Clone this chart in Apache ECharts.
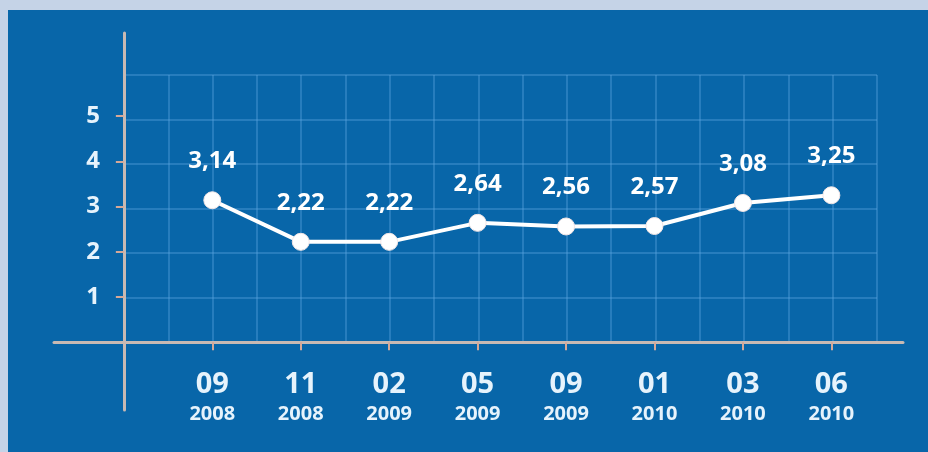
<!DOCTYPE html>
<html>
<head>
<meta charset="utf-8">
<script src="https://cdn.jsdelivr.net/npm/echarts@6/dist/echarts.min.js"></script>
<style>
  html, body { margin: 0; padding: 0; width: 928px; height: 452px; background: #c5d3e7; overflow: hidden; }
  #chart { position: absolute; left: 8px; top: 10px; width: 920px; height: 442px; }
</style>
</head>
<body>
<div id="chart"></div>
<script>
// ---- data ----
const months = ['09', '11', '02', '05', '09', '01', '03', '06'];
const years = ['2008', '2008', '2009', '2009', '2009', '2010', '2010', '2010'];
const values = [3.14, 2.22, 2.22, 2.64, 2.56, 2.57, 3.08, 3.25];
const yTicks = [1, 2, 3, 4, 5];

const xPos = months.map((m, i) => i + 1);
const seriesData = values.map((v, i) => [xPos[i], v]);

const FONT = "'Open Sans', 'DejaVu Sans', sans-serif";
const AXIS_COLOR = '#c8b9b3';
const TICK_COLOR = '#d6a898';
const GRID_COLOR = 'rgba(95,165,225,0.36)';

const chart = echarts.init(document.getElementById('chart'), null, { renderer: 'canvas' });

const tickStyle = { show: true, length: 8, lineStyle: { color: TICK_COLOR, width: 2 } };

chart.setOption({
  backgroundColor: '#0866a9',
  animation: false,
  grid: [
    { left: 46, right: 25, top: 23, bottom: 42, outerBoundsMode: 'none' },
    { left: 116, right: 51, top: 65, bottom: 110, outerBoundsMode: 'none' }
  ],
  xAxis: [
    {
      type: 'value', gridIndex: 0, position: 'bottom', min: -0.79, max: 8.81,
      axisLine: { show: true, onZero: true, onZeroAxisIndex: 0, lineStyle: { color: AXIS_COLOR, width: 3 } },
      axisTick: Object.assign({ customValues: xPos }, tickStyle),
      splitLine: { show: false },
      axisLabel: {
        show: true, customValues: xPos, margin: -41,
        formatter: v => '{a|' + months[v - 1] + '}\n{b|' + years[v - 1] + '}',
        rich: {
          a: { fontFamily: FONT, fontSize: 29, fontWeight: 700, color: '#e6f3fc', lineHeight: 32 },
          b: { fontFamily: FONT, fontSize: 20, fontWeight: 700, color: '#e6f3fc', lineHeight: 26 }
        }
      }
    },
    {
      type: 'value', gridIndex: 0, position: 'top', min: -0.79, max: 8.81,
      axisLine: { show: false, onZero: true, onZeroAxisIndex: 0 },
      axisTick: Object.assign({ customValues: xPos, inside: true }, tickStyle),
      splitLine: { show: false },
      axisLabel: { show: false }
    },
    {
      type: 'value', gridIndex: 1, min: 0, max: 8.5, interval: 0.5,
      axisLine: { show: false }, axisTick: { show: false }, axisLabel: { show: false },
      splitLine: { show: true, lineStyle: { color: GRID_COLOR, width: 2 } }
    }
  ],
  yAxis: [
    {
      type: 'value', gridIndex: 0, position: 'left', min: -1.5, max: 6.84,
      axisLine: { show: true, onZero: true, onZeroAxisIndex: 0, lineStyle: { color: AXIS_COLOR, width: 3 } },
      axisTick: Object.assign({ customValues: yTicks }, tickStyle),
      splitLine: { show: false },
      axisLabel: {
        show: true, customValues: yTicks, margin: -46,
        fontFamily: FONT, fontSize: 24, fontWeight: 700, color: '#e6f3fc'
      }
    },
    {
      type: 'value', gridIndex: 0, position: 'right', min: -1.5, max: 6.84,
      axisLine: { show: false, onZero: true, onZeroAxisIndex: 0 },
      axisTick: Object.assign({ customValues: yTicks, inside: true }, tickStyle),
      splitLine: { show: false },
      axisLabel: { show: false }
    },
    {
      type: 'value', gridIndex: 1, min: 0, max: 6, interval: 1,
      axisLine: { show: false }, axisTick: { show: false }, axisLabel: { show: false },
      splitLine: { show: true, lineStyle: { color: GRID_COLOR, width: 2 } }
    }
  ],
  series: [
    {
      type: 'line', xAxisIndex: 0, yAxisIndex: 0, z: 5,
      data: seriesData,
      symbol: 'circle', symbolSize: 17,
      lineStyle: { color: '#ffffff', width: 4 },
      itemStyle: { color: '#ffffff', borderColor: '#f3e6e6', borderWidth: 1 },
      label: {
        show: true, position: 'top', distance: 18,
        fontFamily: FONT, fontSize: 24, fontWeight: 700, color: '#ffffff',
        formatter: p => p.value[1].toFixed(2).replace('.', ',')
      }
    }
  ]
});
</script>
</body>
</html>
